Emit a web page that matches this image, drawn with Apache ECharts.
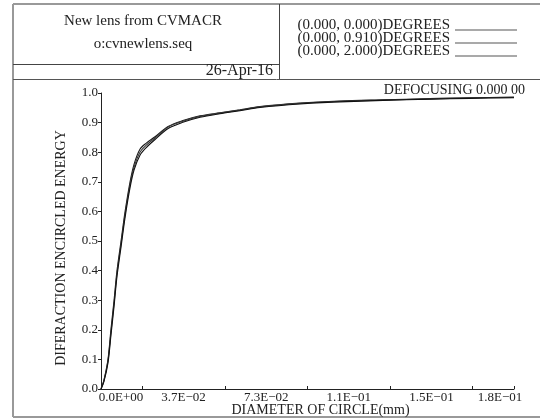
<!DOCTYPE html>
<html><head><meta charset="utf-8">
<script src="https://cdn.jsdelivr.net/npm/echarts@6/dist/echarts.min.js"></script>
<style>html,body{margin:0;padding:0;background:#fff}#c{width:540px;height:419px}</style>
</head><body><div id="c"></div>
<script>
// ---- data ----
const diameters = [0, 0.0013, 0.0031, 0.0044, 0.0058, 0.0071, 0.0089, 0.0107, 0.0129, 0.0147, 0.0173, 0.0200, 0.0240, 0.0298, 0.0360, 0.0440, 0.0528, 0.0617, 0.0706, 0.0884, 0.1061, 0.1252, 0.1460, 0.1638, 0.1834];
const energyField0 = [0, 0.030, 0.100, 0.200, 0.300, 0.400, 0.500, 0.600, 0.700, 0.760, 0.810, 0.830, 0.852, 0.887, 0.906, 0.923, 0.933, 0.943, 0.954, 0.966, 0.973, 0.977, 0.981, 0.984, 0.986];
const energyField1 = [0, 0.028, 0.095, 0.190, 0.290, 0.390, 0.490, 0.590, 0.690, 0.750, 0.800, 0.823, 0.848, 0.885, 0.904, 0.921, 0.932, 0.942, 0.953, 0.965, 0.972, 0.976, 0.980, 0.983, 0.985];
const energyField2 = [0, 0.025, 0.088, 0.180, 0.280, 0.380, 0.480, 0.580, 0.680, 0.740, 0.790, 0.815, 0.843, 0.880, 0.900, 0.918, 0.930, 0.940, 0.951, 0.963, 0.970, 0.975, 0.979, 0.982, 0.984];
const seriesNames = ['(0.000, 0.000)DEGREES', '(0.000, 0.910)DEGREES', '(0.000, 2.000)DEGREES'];
const xLabelValues = [0, 0.03668, 0.07336, 0.11004, 0.14672, 0.1834];
const xLabelTexts = ['0.0E+00', '3.7E\u221202', '7.3E\u221202', '1.1E\u221201', '1.5E\u221201', '1.8E\u221201'];
const xTickValues = [0.01834, 0.05502, 0.0917, 0.12838, 0.16506, 0.1834];
const xMax = 0.1834;

const FONT = '"Liberation Serif", "DejaVu Serif", serif';
const zip = (xs, ys) => xs.map((x, i) => [x, ys[i]]);
const lineColors = ['#1a1a1a', '#3a3a3a', '#111111'];
const allSeries = [energyField0, energyField1, energyField2].map((d, i) => ({
  name: seriesNames[i], type: 'line', data: zip(diameters, d), symbol: 'none',
  smooth: 0.3, lineStyle: { color: lineColors[i], width: 1.1 }, itemStyle: { color: lineColors[i] }
}));

const chart = echarts.init(document.getElementById('c'), null, { renderer: 'canvas' });
chart.setOption({
  animation: false,
  backgroundColor: '#fff',
  grid: { left: 101, right: 26, top: 93, bottom: 30, outerBoundsMode: 'none', containLabel: false },
  legend: {
    data: seriesNames, orient: 'vertical', left: 283, top: 11, align: 'right',
    itemWidth: 62, itemHeight: 12, itemGap: -5, selectedMode: false,
    icon: 'path://M0,0 L62,0 L62,0.001 Z M0,10 L62,10 L62,11 L0,11 Z',
    itemStyle: { color: '#555' },
    textStyle: { fontFamily: FONT, fontSize: 15, color: '#222', width: 162, lineHeight: 12, padding: [0, 0, 6, 0] }
  },
  xAxis: {
    type: 'value', min: 0, max: xMax,
    name: 'DIAMETER OF CIRCLE(mm)', nameLocation: 'middle', nameGap: 14, nameMoveOverlap: false,
    nameTextStyle: { fontFamily: FONT, fontSize: 14, color: '#222', padding: [0, 0, 0, 26] },
    axisLine: { lineStyle: { color: '#222', width: 1 } },
    axisTick: { show: true, inside: true, length: 3, customValues: xTickValues, lineStyle: { color: '#222' } },
    axisLabel: {
      customValues: xLabelValues, margin: 2, showMinLabel: true, showMaxLabel: true,
      formatter: (v) => {
        const i = xLabelValues.findIndex(x => Math.abs(x - v) < 1e-6);
        const t = i >= 0 ? xLabelTexts[i] : '';
        if (i === 0) return '{first|' + t + '}';
        if (i === xLabelValues.length - 1) return '{last|' + t + '}';
        return '{mid|' + t + '}';
      },
      rich: {
        first: { fontFamily: FONT, fontSize: 13, color: '#222', padding: [0, 0, 0, 40] },
        mid: { fontFamily: FONT, fontSize: 13, color: '#222' },
        last: { fontFamily: FONT, fontSize: 13, color: '#222', padding: [0, 28, 0, 0] }
      }
    },
    splitLine: { show: false }
  },
  yAxis: {
    type: 'value', min: 0, max: 1, interval: 0.1,
    name: 'DIFERACTION ENCIRCLED ENERGY', nameLocation: 'middle', nameGap: 33, nameRotate: 90, nameMoveOverlap: false,
    nameTextStyle: { fontFamily: FONT, fontSize: 14, color: '#222', padding: [0, 14, 0, 0] },
    axisLine: { show: true, lineStyle: { color: '#222', width: 1 } },
    axisTick: { show: true, length: 3, lineStyle: { color: '#222' } },
    axisLabel: { margin: 3, fontFamily: FONT, fontSize: 13, color: '#222', formatter: v => v.toFixed(1) },
    splitLine: { show: false }
  },
  graphic: [
    { type: 'line', shape: { x1: 13, y1: 4, x2: 13, y2: 417 }, style: { stroke: '#999', lineWidth: 2 } },
    { type: 'line', shape: { x1: 13, y1: 4, x2: 540, y2: 4 }, style: { stroke: '#999', lineWidth: 2 } },
    { type: 'line', shape: { x1: 13, y1: 417, x2: 540, y2: 417 }, style: { stroke: '#999', lineWidth: 2 } },
    { type: 'line', shape: { x1: 279.5, y1: 4, x2: 279.5, y2: 79 }, style: { stroke: '#444', lineWidth: 1 } },
    { type: 'line', shape: { x1: 13, y1: 64.5, x2: 279.5, y2: 64.5 }, style: { stroke: '#444', lineWidth: 1 } },
    { type: 'line', shape: { x1: 13, y1: 79.5, x2: 540, y2: 79.5 }, style: { stroke: '#555', lineWidth: 1 } },
    { type: 'text', style: { x: 143, y: 21, text: 'New lens from CVMACR', font: '15px ' + FONT, fill: '#222', textAlign: 'center', textVerticalAlign: 'middle' } },
    { type: 'text', style: { x: 143, y: 44, text: 'o:cvnewlens.seq', font: '15px ' + FONT, fill: '#222', textAlign: 'center', textVerticalAlign: 'middle' } },
    { type: 'text', style: { x: 273, y: 71, text: '26-Apr-16', font: '16px ' + FONT, fill: '#222', textAlign: 'right', textVerticalAlign: 'middle' } },
    { type: 'text', style: { x: 525, y: 90, text: 'DEFOCUSING 0.000 00', font: '14px ' + FONT, fill: '#222', textAlign: 'right', textVerticalAlign: 'middle' } }
  ],
  series: allSeries
});
</script></body></html>
